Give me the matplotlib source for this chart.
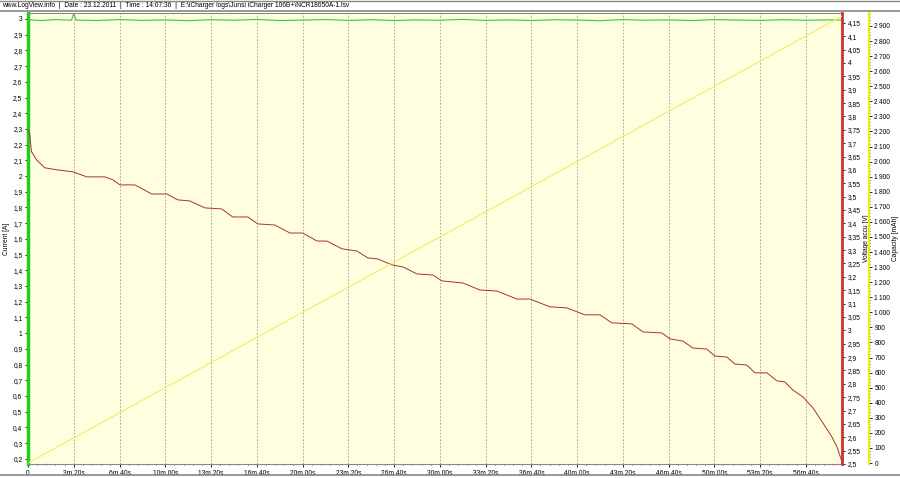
import matplotlib.pyplot as plt
from matplotlib.ticker import MultipleLocator, FuncFormatter, AutoMinorLocator

plt.rcParams['font.family'] = ['Liberation Sans', 'DejaVu Sans']

# time in seconds
volt_t = [0, 8, 15, 37, 73, 130, 196, 257, 336, 371, 402, 467, 541, 607, 655, 707,
          773, 847, 895, 961, 1005, 1079, 1145, 1201, 1263, 1306, 1372, 1437, 1485,
          1529, 1590, 1639, 1700, 1770, 1809, 1901, 1975, 2050, 2137, 2194, 2281,
          2355, 2434, 2500, 2552, 2640, 2688, 2771, 2806, 2862, 2906, 2967, 3002,
          3055, 3090, 3142, 3177, 3230, 3273, 3308, 3343, 3387, 3431, 3474, 3514,
          3536, 3558]
volt_v = [3.75, 3.731, 3.669, 3.638, 3.608, 3.600, 3.593, 3.574, 3.574, 3.563, 3.544,
          3.544, 3.510, 3.510, 3.488, 3.484, 3.458, 3.454, 3.424, 3.424, 3.398, 3.394,
          3.364, 3.364, 3.334, 3.334, 3.305, 3.297, 3.271, 3.267, 3.245, 3.237, 3.211,
          3.207, 3.185, 3.177, 3.151, 3.147, 3.117, 3.117, 3.088, 3.084, 3.058, 3.058,
          3.028, 3.024, 2.994, 2.990, 2.968, 2.960, 2.934, 2.930, 2.904, 2.900, 2.874,
          2.870, 2.841, 2.841, 2.811, 2.807, 2.777, 2.751, 2.710, 2.654, 2.601, 2.564,
          2.508]

cur_t = [0, 3, 60, 120, 190, 200, 210, 300, 400, 500, 600, 700, 800, 900, 1000, 1100,
         1200, 1300, 1400, 1500, 1600, 1700, 1800, 1900, 2000, 2100, 2200, 2300, 2400,
         2500, 2600, 2700, 2800, 2900, 3000, 3100, 3200, 3300, 3400, 3500, 3558]
cur_a = [0.17, 2.995, 2.990, 2.996, 2.992, 3.035, 2.993, 2.990, 2.996, 2.991, 2.994,
         2.989, 2.995, 2.992, 2.997, 2.990, 2.993, 2.996, 2.991, 2.995, 2.990, 2.994,
         2.992, 2.997, 2.991, 2.994, 2.990, 2.995, 2.993, 2.989, 2.996, 2.992, 2.994,
         2.990, 2.996, 2.993, 2.991, 2.995, 2.992, 2.994, 2.993]

cap_t = [0, 1600, 3558]
cap_mah = [0, 1333, 2965]

xticks = [0, 200, 400, 600, 800, 1000, 1200, 1400, 1600, 1800, 2000, 2200, 2400,
          2600, 2800, 3000, 3200, 3400]

fs = 4.8
fig = plt.figure(figsize=(9, 4.78), dpi=100)
ax = fig.add_axes([28/900, 1-464/478, (842-28)/900, (464-13)/478])
ax.set_facecolor('#ffffe0')

ax.plot(cur_t, cur_a, color='#33cc33', lw=0.8)
ax.set_xlim(0, 3558)
ax.set_ylim(0.167, 3.038)
ax.set_xticks(xticks)
ax.xaxis.set_minor_locator(AutoMinorLocator(5))


def tfmt(v, pos):
    if v == 0:
        return '0'
    m = int(v) // 60
    s = int(v) % 60
    return '%dm %02ds' % (m, s)


def comma(v, pos):
    return ('%g' % round(v, 2)).replace('.', ',')


ax.xaxis.set_major_formatter(FuncFormatter(tfmt))
ax.grid(axis='x', color='#999999', ls=(0, (2, 2)), lw=0.6)
ax.yaxis.set_major_locator(MultipleLocator(0.1))
ax.yaxis.set_minor_locator(AutoMinorLocator(5))
ax.yaxis.set_major_formatter(FuncFormatter(comma))
ax.set_ylabel('Current [A]', fontsize=fs)
ax.yaxis.set_label_coords(-0.022, 0.5)
ax.tick_params(labelsize=fs, length=2, width=0.6, pad=2)
ax.tick_params(which='minor', length=1, width=0.5)
ax.spines['left'].set_color('#22cc22')
ax.spines['left'].set_linewidth(2.5)
ax.spines['top'].set_color('#888888')
ax.spines['bottom'].set_color('#888888')
ax.spines['right'].set_visible(False)

ax2 = ax.twinx()
ax2.plot(volt_t, volt_v, color='#a83232', lw=0.7)
ax2.set_ylim(2.5, 4.187)
ax2.yaxis.set_major_locator(MultipleLocator(0.05))
ax2.yaxis.set_minor_locator(AutoMinorLocator(5))
ax2.yaxis.set_major_formatter(FuncFormatter(comma))
ax2.set_ylabel('Voltage accu [V]', fontsize=fs)
ax2.yaxis.set_label_coords(1.026, 0.5)
ax2.tick_params(labelsize=fs, length=2, width=0.6, pad=2)
ax2.tick_params(which='minor', length=1, width=0.5)
ax2.spines['right'].set_color('#cc3333')
ax2.spines['right'].set_linewidth(2)
for s in ['left', 'top', 'bottom']:
    ax2.spines[s].set_visible(False)

ax3 = ax.twinx()
ax3.plot(cap_t, cap_mah, color='#eeee66', lw=0.8)
ax3.set_ylim(-6.6, 2986)
ax3.spines['right'].set_position(('axes', 1.033))
ax3.spines['right'].set_color('#eeee00')
ax3.spines['right'].set_linewidth(1.5)
for s in ['left', 'top', 'bottom']:
    ax3.spines[s].set_visible(False)
ax3.yaxis.set_major_locator(MultipleLocator(100))
ax3.yaxis.set_minor_locator(AutoMinorLocator(5))
ax3.yaxis.set_major_formatter(
    FuncFormatter(lambda v, p: '{:,}'.format(int(round(v))).replace(',', '\u2009')))
ax3.set_ylabel('Capacity [mAh]', fontsize=fs)
ax3.yaxis.set_label_coords(1.0615, 0.5)
ax3.tick_params(labelsize=fs, length=2, width=0.6, pad=2)
ax3.tick_params(which='minor', length=1, width=0.5)

# header strip
fig.add_artist(plt.Line2D([0, 1], [1-10.5/478, 1-10.5/478], color='#888888', lw=1.2))
fig.add_artist(plt.Line2D([0, 1], [1-0.5/478, 1-0.5/478], color='#888888', lw=1))
fig.add_artist(plt.Line2D([0, 1], [1-475/478, 1-475/478], color='#888888', lw=1.2))
fig.text(2/900, 1-5.3/478,
         'www.LogView.info  |  Date : 23.12.2011  |  Time : 14:07:36  |  '
         'E:\\iCharger logs\\Junsi iCharger 106B+\\NCR18650A-1.lsv',
         fontsize=fs, va='center', ha='left')

fig.savefig('out.png', dpi=100)
